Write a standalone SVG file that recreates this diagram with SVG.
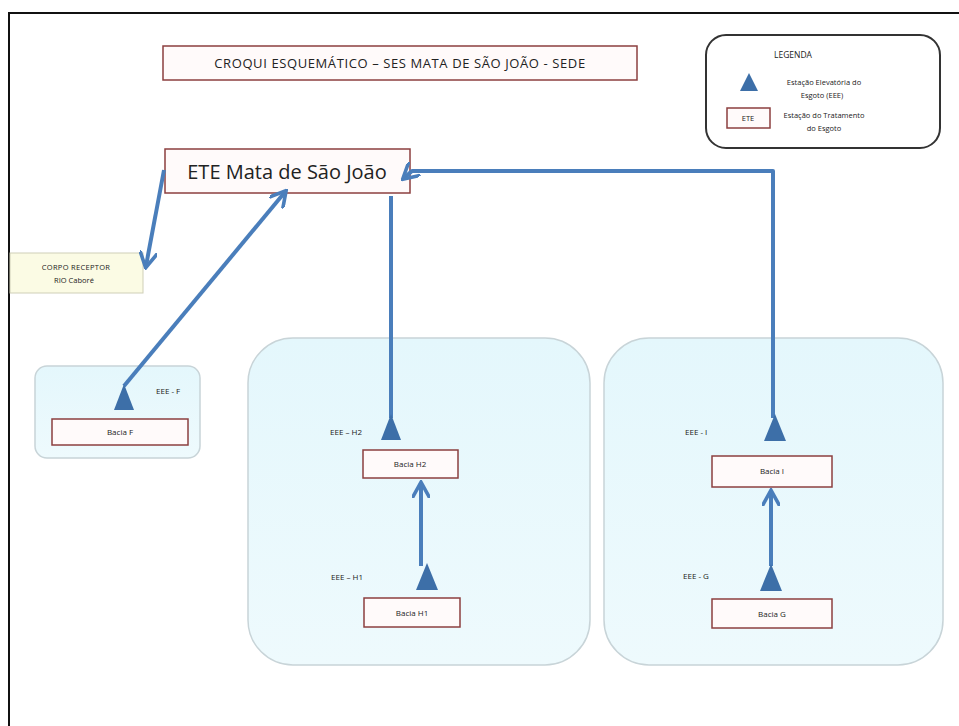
<svg xmlns="http://www.w3.org/2000/svg" width="959" height="726" viewBox="0 0 959 726">
<style>
  text { font-family: "Open Sans", "Liberation Sans", sans-serif; fill: #222; }
  .box { fill: #fffafa; stroke: #8c3f3f; stroke-width: 1.5; }
  .panel { fill: url(#pg); stroke: #c8d4d8; stroke-width: 1.5; }
  .tri { fill: #3d6fa8; }
  .conn { fill: none; stroke: #4a7ebb; stroke-width: 4; stroke-linejoin: round; }
  .sm { font-size: 8px; }
  .lg { font-size: 7.5px; }
</style>
<defs>
  <linearGradient id="pg" x1="0" y1="0" x2="0" y2="1">
    <stop offset="0" stop-color="#e4f7fc"/>
    <stop offset="1" stop-color="#eefafd"/>
  </linearGradient>
  <marker id="ah" viewBox="0 0 10 10" refX="8" refY="5" markerWidth="4.5" markerHeight="4.5" orient="auto" markerUnits="strokeWidth">
    <path d="M0,0 L9,5 L0,10" fill="none" stroke="#4a7ebb" stroke-width="2"/>
  </marker>
</defs>
<rect x="0" y="0" width="959" height="726" fill="#ffffff"/>
<rect x="9" y="13" width="960" height="730" fill="none" stroke="#111" stroke-width="2"/>

<g id="title">
  <rect class="box" x="163" y="46" width="474" height="34"/>
  <text x="400" y="68" font-size="13" letter-spacing="0.6" text-anchor="middle" fill="#555">CROQUI ESQUEMÁTICO  – SES MATA  DE SÃO JOÃO - SEDE</text>
</g>

<g id="legend">
  <rect x="706" y="35" width="234" height="113" rx="20" fill="#fff" stroke="#333" stroke-width="2"/>
  <text x="793" y="58" font-size="8.5" text-anchor="middle">LEGENDA</text>
  <polygon class="tri" points="749,73 740,91 758,91"/>
  <text class="lg" x="824" y="85" text-anchor="middle">Estação Elevatória do</text>
  <text class="lg" x="822" y="98" text-anchor="middle">Esgoto (EEE)</text>
  <rect class="box" x="727" y="108" width="43" height="20"/>
  <text class="lg" x="748" y="121" text-anchor="middle">ETE</text>
  <text class="lg" x="824" y="118" text-anchor="middle">Estação  do Tratamento</text>
  <text class="lg" x="824" y="131" text-anchor="middle">do Esgoto</text>
</g>

<g id="panel-f"><rect class="panel" x="35" y="366" width="165" height="92" rx="12"/></g>
<g id="panel-h"><rect class="panel" x="248" y="338" width="342" height="327" rx="45"/></g>
<g id="panel-ig"><rect class="panel" x="604" y="338" width="339" height="327" rx="45"/></g>

<g id="ete">
  <rect class="box" x="165" y="149" width="245" height="44"/>
  <text x="287" y="179" font-size="20" text-anchor="middle">ETE Mata de São João</text>
</g>

<g id="corpo-receptor">
  <rect x="10" y="253" width="133" height="40" fill="#fbfbe4" stroke="#cfcfb8" stroke-width="1"/>
  <text class="lg" x="76" y="270" text-anchor="middle" letter-spacing="0.3">CORPO RECEPTOR</text>
  <text class="lg" x="74" y="283" text-anchor="middle">RIO Caboré</text>
</g>

<g id="connectors">
  <path class="conn" d="M164,170 L146,266" marker-end="url(#ah)"/>
  <path class="conn" d="M124,386 L285,192" marker-end="url(#ah)"/>
  <path class="conn" d="M391,418 L391,196"/>
  <path class="conn" d="M773,418 L773,171 L412,171 L404,178" marker-end="url(#ah)"/>
  <path class="conn" d="M421,566 L421,484" marker-end="url(#ah)"/>
  <path class="conn" d="M771,566 L771,492" marker-end="url(#ah)"/>
</g>

<g id="eee-f">
  <polygon class="tri" points="124,384 114,410 134,410"/>
  <text class="sm" x="156" y="394">EEE - F</text>
</g>
<g id="bacia-f">
  <rect class="box" x="52" y="419" width="136" height="26"/>
  <text class="sm" x="120" y="435" text-anchor="middle">Bacia F</text>
</g>

<g id="eee-h2">
  <polygon class="tri" points="391,414 381,440 401,440"/>
  <text class="sm" x="330" y="435">EEE – H2</text>
</g>
<g id="bacia-h2">
  <rect class="box" x="363" y="450" width="95" height="28"/>
  <text class="sm" x="410" y="467" text-anchor="middle">Bacia H2</text>
</g>

<g id="eee-h1">
  <polygon class="tri" points="427,563 416,590 438,590"/>
  <text class="sm" x="331" y="580">EEE – H1</text>
</g>
<g id="bacia-h1">
  <rect class="box" x="364" y="598" width="96" height="29"/>
  <text class="sm" x="412" y="616" text-anchor="middle">Bacia H1</text>
</g>

<g id="eee-i">
  <polygon class="tri" points="775,414 764,441 786,441"/>
  <text class="sm" x="685" y="435">EEE - I</text>
</g>
<g id="bacia-i">
  <rect class="box" x="712" y="456" width="120" height="31"/>
  <text class="sm" x="772" y="474" text-anchor="middle">Bacia I</text>
</g>

<g id="eee-g">
  <polygon class="tri" points="771,564 760,591 782,591"/>
  <text class="sm" x="683" y="579">EEE - G</text>
</g>
<g id="bacia-g">
  <rect class="box" x="712" y="599" width="120" height="29"/>
  <text class="sm" x="772" y="617" text-anchor="middle">Bacia G</text>
</g>
</svg>
